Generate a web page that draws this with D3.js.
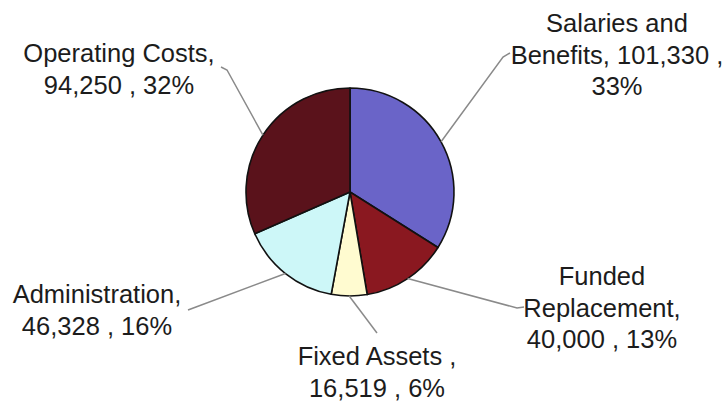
<!DOCTYPE html>
<html>
<head>
<meta charset="utf-8">
<script src="https://cdn.jsdelivr.net/npm/d3@7"></script>
<style>
  body { margin: 0; background: #fff; }
  svg { display: block; font-family: 'Liberation Sans', Arial, sans-serif; }
</style>
</head>
<body>
<script>
const categories = ['Salaries and Benefits', 'Funded Replacement', 'Fixed Assets', 'Administration', 'Operating Costs'],
      values = [101330, 40000, 16519, 46328, 94250],
      percents = ['33%', '13%', '6%', '16%', '32%'],
      labelLines = [
        ['Salaries and', 'Benefits, 101,330 ,', '33%'],
        ['Funded', 'Replacement,', '40,000 , 13%'],
        ['Fixed Assets ,', '16,519 , 6%'],
        ['Administration,', '46,328 , 16%'],
        ['Operating Costs,', '94,250 , 32%']
      ];

const colors = ['#6a64c8', '#8a1820', '#fffbd0', '#cdf7f8', '#5a121b'];

// label block position (center x, first baseline) and leader end / hook
const labelLayout = [
  { x: 617, y: 32, end: [503, 57], hook: [510, 53] },
  { x: 602, y: 285, end: [517, 308], hook: [524, 307] },
  { x: 377, y: 365, end: [377, 333], hook: null },
  { x: 97, y: 303, end: [196, 307], hook: [188, 310] },
  { x: 119, y: 62, end: [227, 70], hook: [221, 67] }
];

const width = 728,
      height = 404,
      cx = 350,
      cy = 192,
      radius = 104,
      lineH = 31.5;

const svg = d3.select('body')
              .append('svg')
              .attr('width', width)
              .attr('height', height);

const pie = d3.pie().sort(null).value(function(d) { return d; });
const arcs = pie(values);

const arc = d3.arc().innerRadius(0).outerRadius(radius),
      edgeArc = d3.arc().innerRadius(radius).outerRadius(radius);

const g = svg.append('g')
             .attr('transform', `translate(${cx},${cy})`);

// leader lines
svg.append('g')
   .selectAll('path')
   .data(arcs)
   .enter()
   .append('path')
   .attr('d', function(d, i) {
     const p = edgeArc.centroid(d),
           l = labelLayout[i];
     const pts = [[p[0] + cx, p[1] + cy], l.end];
     if (l.hook) pts.push(l.hook);
     return d3.line()(pts);
   })
   .attr('fill', 'none')
   .attr('stroke', '#8a8a8a')
   .attr('stroke-width', 1.5);

g.selectAll('path')
 .data(arcs)
 .enter()
 .append('path')
 .attr('d', arc)
 .attr('fill', function(d, i) { return colors[i]; })
 .attr('stroke', '#111')
 .attr('stroke-width', 1.6)
 .attr('stroke-linejoin', 'round');

const labels = svg.append('g')
                  .selectAll('text')
                  .data(arcs)
                  .enter()
                  .append('text')
                  .attr('text-anchor', 'middle')
                  .attr('font-size', 25.5)
                  .attr('fill', '#1c1c1c');

labels.each(function(d, i) {
  const l = labelLayout[i];
  d3.select(this)
    .selectAll('tspan')
    .data(labelLines[i])
    .enter()
    .append('tspan')
    .attr('x', l.x)
    .attr('y', function(t, j) { return l.y + j * lineH; })
    .text(function(t) { return t; });
});
</script>
</body>
</html>
